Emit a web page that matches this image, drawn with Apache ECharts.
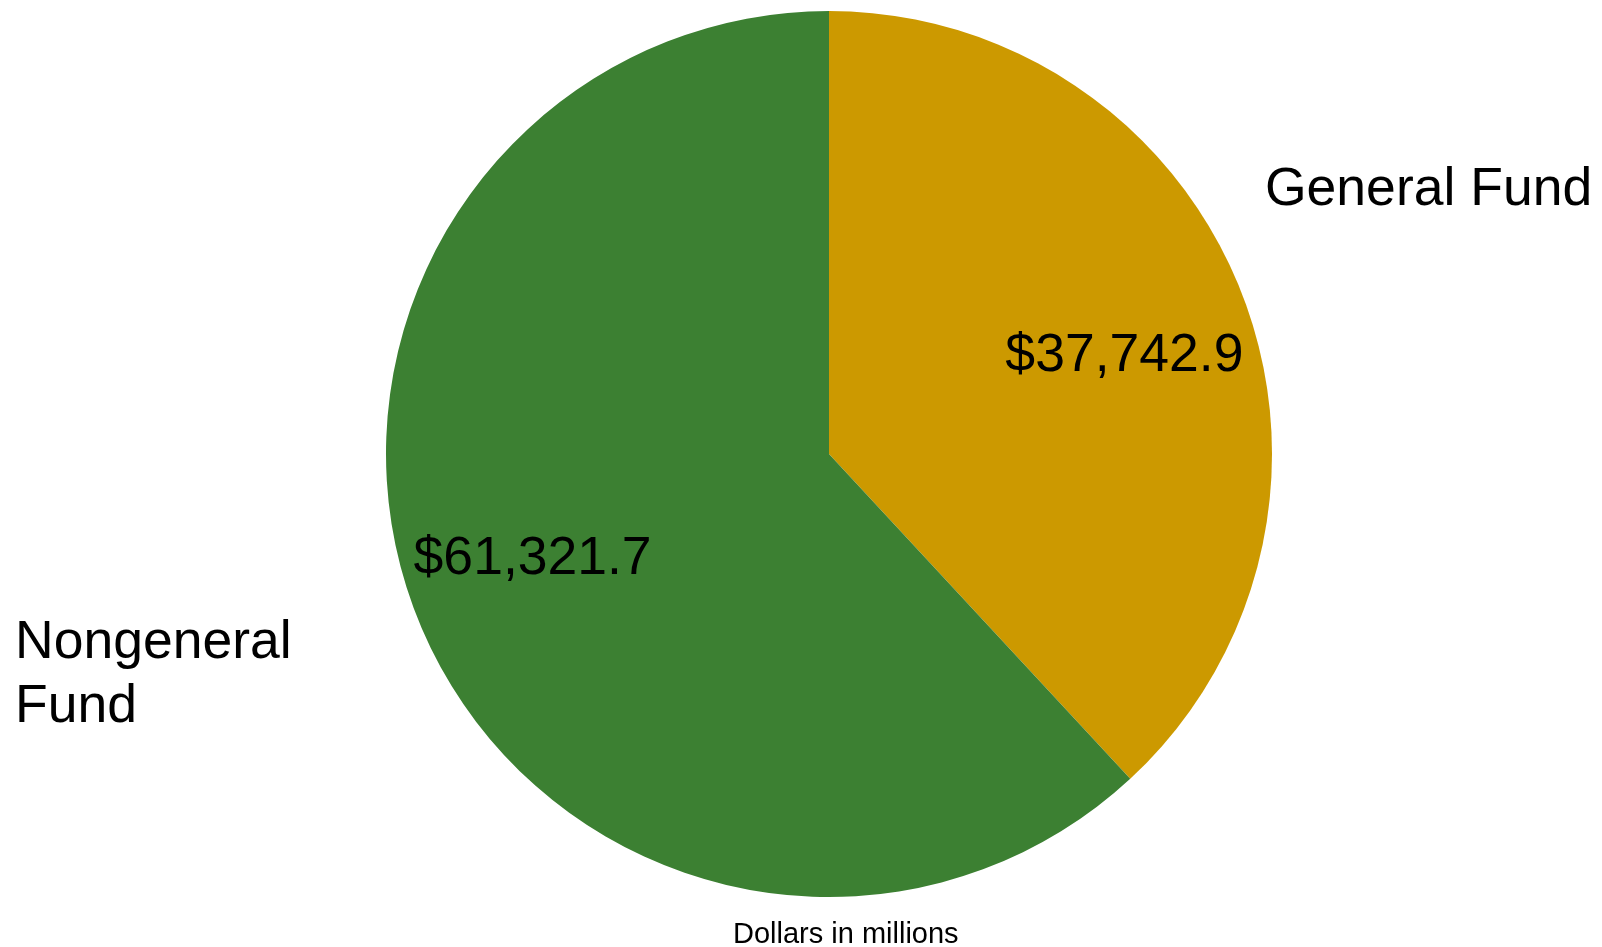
<!DOCTYPE html>
<html>
<head>
<meta charset="utf-8">
<script src="https://cdn.jsdelivr.net/npm/echarts@6/dist/echarts.min.js"></script>
<style>
  html, body { margin: 0; padding: 0; background: #fff; }
  #main { width: 1602px; height: 947px; }
</style>
</head>
<body>
<div id="main"></div>
<script>
// data
var categories = ["General Fund", "Nongeneral Fund"];
var values = [37742.9, 61321.7];
var colors = ["#cc9900", "#3c8032"];
var unitNote = "Dollars in millions";

var FONT = "'Liberation Sans', Arial, Helvetica, sans-serif";

function formatMoney(v) {
  return "$" + v.toLocaleString("en-US", { minimumFractionDigits: 1, maximumFractionDigits: 1 });
}

var pieData = categories.map(function (name, i) {
  return {
    name: name,
    value: values[i],
    itemStyle: { color: colors[i] },
    // the long name wraps onto two lines, the short one stays on one
    label: i === 1 ? { width: 300, overflow: "break" } : { width: 400, overflow: "none" }
  };
});

var myChart = echarts.init(document.getElementById("main"));

var option = {
  animation: false,
  title: {
    text: unitNote,
    left: 733,
    top: 920,
    padding: 0,
    textStyle: { fontFamily: FONT, fontSize: 29, fontWeight: "normal", color: "#000" }
  },
  series: [
    {
      // slices + name labels
      type: "pie",
      center: [829, 454],
      radius: 443,
      startAngle: 90,
      clockwise: true,
      silent: true,
      data: pieData,
      label: {
        show: true,
        position: "outside",
        formatter: "{b}",
        fontFamily: FONT,
        fontSize: 53.5,
        lineHeight: 64,
        color: "#000"
      },
      labelLine: { show: false },
      labelLayout: function (params) {
        if (params.dataIndex === 0) {
          return { x: 1265, y: 190, align: "left", verticalAlign: "middle" };
        }
        return { x: 15, y: 675, align: "left", verticalAlign: "middle" };
      }
    },
    {
      // value labels, placed at mid radius of an invisible wider ring
      type: "pie",
      center: [829, 454],
      radius: [0, 620],
      startAngle: 90,
      clockwise: true,
      silent: true,
      data: categories.map(function (name, i) {
        return { name: name, value: values[i] };
      }),
      itemStyle: { color: "rgba(0,0,0,0)" },
      label: {
        show: true,
        position: "inside",
        formatter: function (p) { return formatMoney(p.value); },
        fontFamily: FONT,
        fontSize: 53.5,
        color: "#000",
        textBorderWidth: 0
      },
      labelLine: { show: false },
      labelLayout: function (params) {
        return params.dataIndex === 0 ? { dx: 4, dy: 17 } : { dx: -5, dy: -9 };
      }
    }
  ]
};

myChart.setOption(option);
</script>
</body>
</html>
